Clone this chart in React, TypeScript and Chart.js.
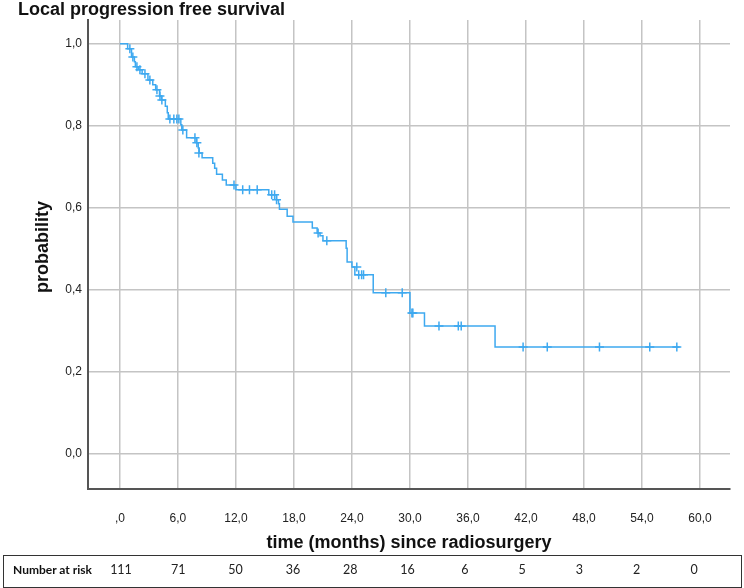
import React, { useEffect, useRef } from "react";
import { Chart, registerables } from "chart.js";

Chart.register(...registerables);

// Kaplan-Meier step points (time in months, survival probability after the step)
const eventTimes = [0, 0.8, 1.2, 1.5, 1.6, 1.9, 2.3, 2.9, 3.4, 3.7, 4.1, 4.3, 4.7, 4.9, 5.0, 6.3, 6.4, 6.9, 7.9, 8.1, 8.2, 8.5, 9.6, 9.8, 10.0, 10.6, 11.0, 12.0, 15.4, 16.2, 16.4, 16.5, 17.3, 17.9, 19.9, 20.4, 20.7, 21.0, 23.4, 23.5, 24.0, 24.3, 26.2, 30.0, 31.5, 38.8, 57.9];
const survival = [1.0, 0.988, 0.968, 0.956, 0.944, 0.937, 0.927, 0.912, 0.9, 0.888, 0.873, 0.863, 0.848, 0.832, 0.817, 0.803, 0.79, 0.771, 0.759, 0.746, 0.734, 0.722, 0.709, 0.697, 0.682, 0.668, 0.656, 0.644, 0.632, 0.62, 0.61, 0.597, 0.58, 0.566, 0.551, 0.539, 0.532, 0.52, 0.502, 0.468, 0.456, 0.437, 0.393, 0.344, 0.312, 0.261, 0.261];

// Censored observations
const censorTimes = [1.03, 1.34, 1.76, 2.07, 2.59, 3.1, 3.83, 4.14, 4.34, 5.17, 5.58, 5.89, 6.1, 6.51, 7.76, 7.96, 8.17, 11.8, 12.7, 13.4, 14.2, 15.7, 16.0, 16.2, 20.5, 21.4, 24.5, 24.7, 25.0, 25.2, 27.5, 29.2, 30.2, 30.3, 33.0, 35.0, 35.3, 41.7, 44.2, 49.6, 54.8, 57.6];
const censorSurv = [0.988, 0.968, 0.944, 0.937, 0.927, 0.912, 0.888, 0.873, 0.863, 0.817, 0.817, 0.817, 0.817, 0.79, 0.771, 0.759, 0.734, 0.656, 0.644, 0.644, 0.644, 0.632, 0.632, 0.62, 0.539, 0.52, 0.456, 0.437, 0.437, 0.437, 0.393, 0.393, 0.344, 0.344, 0.312, 0.312, 0.312, 0.261, 0.261, 0.261, 0.261, 0.261];

const xTicks = [0, 6, 12, 18, 24, 30, 36, 42, 48, 54, 60];
const yTicks = [0, 0.2, 0.4, 0.6, 0.8, 1.0];
const riskCounts = [111, 71, 50, 36, 28, 16, 6, 5, 3, 2, 0];

const TITLE = "Local progression free survival";
const X_TITLE = "time (months) since radiosurgery";
const Y_TITLE = "probability";
const RISK_LABEL = "Number at risk";

const BLUE = "#3ea9f0";
const fmt = (v: number) => (v === 0 ? "0,0" : v.toFixed(1).replace(".", ","));
const fmtX = (v: number) => (v === 0 ? ",0" : v.toFixed(1).replace(".", ","));

export default function App() {
  const ref = useRef<HTMLCanvasElement | null>(null);

  useEffect(() => {
    if (!ref.current) return;
    const chart = new Chart(ref.current, {
      type: "line",
      data: {
        datasets: [
          {
            data: eventTimes.map((t, i) => ({ x: t, y: survival[i] })),
            stepped: "before",
            borderColor: BLUE,
            borderWidth: 1.5,
            pointRadius: 0,
            fill: false,
          },
          {
            data: censorTimes.map((t, i) => ({ x: t, y: censorSurv[i] })),
            showLine: false,
            pointStyle: "cross",
            pointRadius: 4.5,
            borderColor: BLUE,
            backgroundColor: BLUE,
            pointBorderWidth: 1.5,
          } as any,
        ],
      },
      options: {
        responsive: false,
        animation: false,
        devicePixelRatio: 1,
        layout: { padding: { top: 20, right: 14, left: 0, bottom: 0 } },
        plugins: { legend: { display: false }, tooltip: { enabled: false }, title: { display: false } },
        scales: {
          x: {
            type: "linear",
            min: -3.3,
            max: 63.1,
            afterBuildTicks: (s: any) => {
              s.ticks = xTicks.map((v) => ({ value: v }));
            },
            afterFit: (s: any) => {
              s.height = 63;
            },
            ticks: {
              callback: (v: any) => fmtX(Number(v)),
              font: { family: "Liberation Sans", size: 12 },
              color: "#222",
              padding: 22,
              maxRotation: 0,
              autoSkip: false,
            },
            grid: { color: "#c4c4c4", lineWidth: 1.5, drawTicks: false },
            border: { display: true, color: "#555", width: 2 },
          },
          y: {
            type: "linear",
            min: -0.085,
            max: 1.058,
            afterBuildTicks: (s: any) => {
              s.ticks = yTicks.map((v) => ({ value: v }));
            },
            afterFit: (s: any) => {
              s.width = 88;
            },
            ticks: {
              callback: (v: any) => fmt(Number(v)),
              font: { family: "Liberation Sans", size: 12 },
              color: "#222",
              padding: 6,
            },
            grid: { color: "#c4c4c4", lineWidth: 1.5, drawTicks: false },
            border: { display: true, color: "#555", width: 2 },
          },
        },
      },
    });
    return () => chart.destroy();
  }, []);

  const bold = { fontFamily: "Liberation Sans", fontWeight: 700, color: "#111" } as const;

  return (
    <div style={{ position: "absolute", left: 0, top: 0, width: 744, height: 588, background: "#fff" }}>
      <canvas ref={ref} width={744} height={552} style={{ position: "absolute", left: 0, top: 0, width: 744, height: 552 }} />
      <div style={{ ...bold, position: "absolute", left: 18, top: -1, fontSize: 18, lineHeight: "20px", whiteSpace: "nowrap" }}>{TITLE}</div>
      <div style={{ ...bold, position: "absolute", left: 88, width: 642, top: 532, fontSize: 18, lineHeight: "20px", textAlign: "center", whiteSpace: "nowrap" }}>{X_TITLE}</div>
      <div
        style={{
          ...bold,
          position: "absolute",
          left: 42 - 100,
          top: 247 - 10,
          width: 200,
          height: 20,
          fontSize: 18,
          lineHeight: "20px",
          textAlign: "center",
          transform: "rotate(-90deg)",
          transformOrigin: "50% 50%",
          whiteSpace: "nowrap",
        }}
      >
        {Y_TITLE}
      </div>
      <div style={{ position: "absolute", left: 3, top: 555, width: 739, height: 33, boxSizing: "border-box", border: "1.5px solid #333" }} />
      <div style={{ position: "absolute", left: 13, top: 561, fontFamily: "Lato", fontWeight: 700, fontSize: 12, lineHeight: "18px", color: "#111", whiteSpace: "nowrap" }}>{RISK_LABEL}</div>
      {riskCounts.map((n, i) => (
        <div
          key={i}
          style={{ position: "absolute", left: 121 + i * 57.3 - 20, width: 40, top: 561, fontFamily: "Lato", fontSize: 12.5, lineHeight: "18px", color: "#222", textAlign: "center" }}
        >
          {n}
        </div>
      ))}
    </div>
  );
}
